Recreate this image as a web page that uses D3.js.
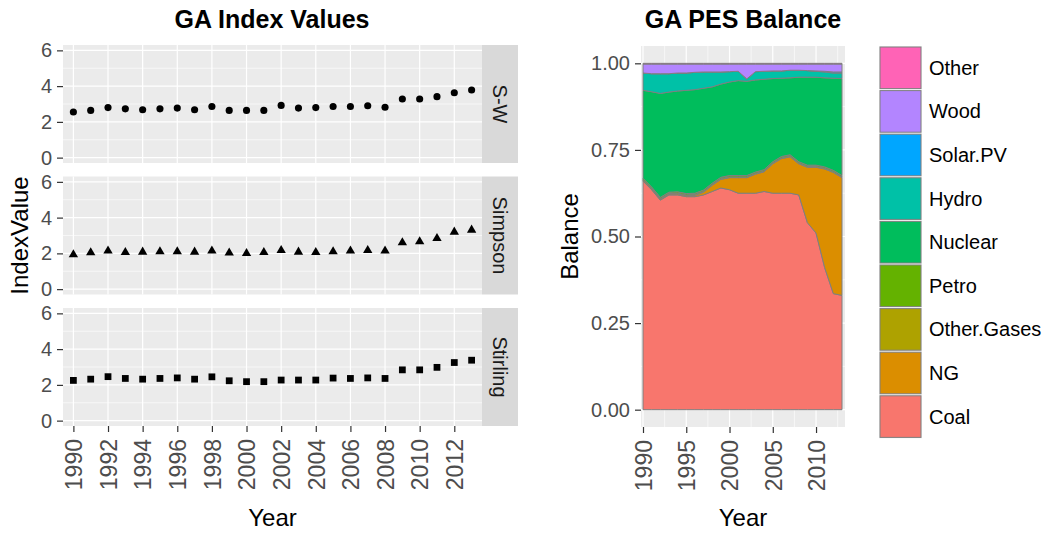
<!DOCTYPE html>
<html lang="en">
<head>
<meta charset="UTF-8">
<title>GA Index Values / GA PES Balance</title>
<script src="https://d3js.org/d3.v7.min.js"></script>
<style>
    body { margin: 0; background: #fff; }
    svg { font-family: "Liberation Sans", Arial, sans-serif; }
    .tick text { fill: #4d4d4d; font-size: 20px; }
    .xaxis .tick text { font-size: 23px; }
    .tick line { stroke: #333; }
    .axis-title { font-size: 24px; fill: #000; }
    .title { font-size: 25px; font-weight: bold; fill: #000; }
</style>
</head>
<body>
<script>
    // ---- data ----
    const years = [1990, 1991, 1992, 1993, 1994, 1995, 1996, 1997, 1998, 1999, 2000, 2001,
        2002, 2003, 2004, 2005, 2006, 2007, 2008, 2009, 2010, 2011, 2012, 2013];
    const yearLabels = [1990, 1992, 1994, 1996, 1998, 2000, 2002, 2004, 2006, 2008, 2010, 2012];

    const swValues = [2.55, 2.64, 2.80, 2.73, 2.68, 2.73, 2.77, 2.68, 2.86, 2.64, 2.64, 2.64,
        2.92, 2.77, 2.80, 2.86, 2.86, 2.90, 2.82, 3.28, 3.28, 3.41, 3.63, 3.78];
    const simpsonValues = [1.93, 2.04, 2.14, 2.06, 2.08, 2.10, 2.10, 2.08, 2.14, 2.03, 2.00, 2.06,
        2.17, 2.08, 2.06, 2.10, 2.14, 2.17, 2.14, 2.60, 2.66, 2.84, 3.20, 3.31];
    const stirlingValues = [2.25, 2.32, 2.46, 2.36, 2.32, 2.36, 2.39, 2.32, 2.45, 2.23, 2.18, 2.18,
        2.27, 2.27, 2.27, 2.38, 2.36, 2.39, 2.36, 2.84, 2.84, 2.98, 3.25, 3.38];
    const indexTicks = [0, 2, 4, 6];

    const sources = ["Coal", "NG", "Other.Gases", "Petro", "Nuclear", "Hydro", "Solar.PV", "Wood", "Other"];
    const sourceColors = ["#F8766D", "#DB8E00", "#AEA200", "#64B200", "#00BD5C", "#00C1A7", "#00A6FF", "#B385FF", "#FF63B6"];

    const coal = [0.660, 0.635, 0.605, 0.620, 0.620, 0.615, 0.615, 0.620, 0.630, 0.640, 0.635, 0.625,
        0.625, 0.625, 0.630, 0.625, 0.625, 0.625, 0.620, 0.540, 0.510, 0.410, 0.335, 0.330];
    const ng = [0.002, 0.002, 0.002, 0.002, 0.003, 0.003, 0.004, 0.008, 0.018, 0.025, 0.035, 0.045,
        0.045, 0.055, 0.057, 0.085, 0.100, 0.105, 0.090, 0.160, 0.190, 0.285, 0.350, 0.340];
    const otherGases = [0.002, 0.002, 0.002, 0.002, 0.002, 0.002, 0.002, 0.002, 0.002, 0.002, 0.002, 0.002,
        0.002, 0.002, 0.002, 0.002, 0.002, 0.002, 0.002, 0.002, 0.002, 0.002, 0.002, 0.002];
    const petro = [0.004, 0.004, 0.004, 0.004, 0.004, 0.004, 0.004, 0.004, 0.004, 0.004, 0.004, 0.004,
        0.004, 0.004, 0.004, 0.004, 0.004, 0.004, 0.004, 0.004, 0.004, 0.004, 0.004, 0.004];
    const nuclear = [0.254, 0.275, 0.300, 0.289, 0.291, 0.298, 0.299, 0.294, 0.278, 0.269, 0.270, 0.274,
        0.272, 0.266, 0.261, 0.240, 0.226, 0.222, 0.244, 0.254, 0.254, 0.257, 0.266, 0.280];
    const hydro = [0.050, 0.052, 0.057, 0.053, 0.052, 0.050, 0.050, 0.047, 0.043, 0.035, 0.030, 0.027,
        0.007, 0.024, 0.023, 0.022, 0.021, 0.022, 0.020, 0.019, 0.017, 0.017, 0.015, 0.016];
    const solarPV = [0, 0, 0, 0, 0, 0, 0, 0, 0, 0, 0, 0,
        0, 0, 0, 0, 0, 0, 0, 0, 0.001, 0.002, 0.003, 0.003];
    const wood = [0.026, 0.028, 0.028, 0.028, 0.026, 0.026, 0.024, 0.023, 0.023, 0.023, 0.022, 0.021,
        0.043, 0.022, 0.021, 0.020, 0.020, 0.018, 0.018, 0.019, 0.020, 0.021, 0.023, 0.023];
    const other = [0.002, 0.002, 0.002, 0.002, 0.002, 0.002, 0.002, 0.002, 0.002, 0.002, 0.002, 0.002,
        0.002, 0.002, 0.002, 0.002, 0.002, 0.002, 0.002, 0.002, 0.002, 0.002, 0.002, 0.002];
    const balanceTicks = [0, 0.25, 0.5, 0.75, 1];
    const balanceYearTicks = [1990, 1995, 2000, 2005, 2010];

    const svg = d3.select("body").append("svg")
        .attr("width", 1044)
        .attr("height", 533);

    // ---- left: faceted index values ----
    const leftX0 = 63, leftX1 = 482, stripW = 36;
    const panelH = 118, panelGap = 13.5, panelTop = 45;

    const x = d3.scalePoint().domain(years).range([leftX0, leftX1]).padding(0.6);

    const facets = [
        {name: "S-W", values: swValues, shape: d3.symbolCircle, size: 40},
        {name: "Simpson", values: simpsonValues, shape: d3.symbolTriangle, size: 38},
        {name: "Stirling", values: stirlingValues, shape: d3.symbolSquare, size: 46}
    ];

    facets.forEach(function (f, k) {
        const top = panelTop + k * (panelH + panelGap);
        const y = d3.scaleLinear().domain([-0.3, 6.3]).range([top + panelH, top]);
        const g = svg.append("g");

        g.append("rect")
            .attr("x", leftX0).attr("y", top)
            .attr("width", leftX1 - leftX0).attr("height", panelH)
            .attr("fill", "#ebebeb");

        // minor grid
        g.selectAll(".minor").data([1, 3, 5]).enter().append("line")
            .attr("x1", leftX0).attr("x2", leftX1)
            .attr("y1", d => y(d)).attr("y2", d => y(d))
            .attr("stroke", "#fff").attr("stroke-width", 0.6);
        // major grid
        g.selectAll(".majorY").data(indexTicks).enter().append("line")
            .attr("x1", leftX0).attr("x2", leftX1)
            .attr("y1", d => y(d)).attr("y2", d => y(d))
            .attr("stroke", "#fff").attr("stroke-width", 1.2);
        g.selectAll(".majorX").data(yearLabels).enter().append("line")
            .attr("x1", d => x(d)).attr("x2", d => x(d))
            .attr("y1", top).attr("y2", top + panelH)
            .attr("stroke", "#fff").attr("stroke-width", 1.2);

        // points
        g.selectAll("path.pt").data(f.values).enter().append("path")
            .attr("class", "pt")
            .attr("transform", (d, i) => "translate(" + x(years[i]) + "," + y(d) + ")")
            .attr("d", d3.symbol().type(f.shape).size(f.size))
            .attr("fill", "#000");

        // y axis
        const ax = g.append("g")
            .attr("transform", "translate(" + leftX0 + ",0)")
            .call(d3.axisLeft(y).tickValues(indexTicks).tickFormat(d3.format("d")).tickSize(6).tickPadding(5));
        ax.select(".domain").remove();
        ax.selectAll(".tick line").attr("stroke-width", 1.2);

        // strip
        g.append("rect")
            .attr("x", leftX1).attr("y", top)
            .attr("width", stripW).attr("height", panelH)
            .attr("fill", "#d9d9d9");
        g.append("text")
            .attr("transform", "translate(" + (leftX1 + stripW / 2) + "," + (top + panelH / 2) + ") rotate(90)")
            .attr("text-anchor", "middle")
            .attr("dy", "0.35em")
            .style("font-size", "20px")
            .style("fill", "#1a1a1a")
            .text(f.name);
    });

    const leftBottom = panelTop + 3 * panelH + 2 * panelGap;
    const axL = svg.append("g")
        .attr("class", "xaxis")
        .attr("transform", "translate(0," + leftBottom + ")")
        .call(d3.axisBottom(x).tickValues(yearLabels).tickSize(6));
    axL.select(".domain").remove();
    axL.selectAll(".tick line").attr("stroke-width", 1.2);
    axL.selectAll(".tick text")
        .attr("transform", "rotate(-90)")
        .attr("x", -13).attr("y", 0).attr("dy", "0.36em")
        .style("text-anchor", "end");

    svg.append("text").attr("class", "title")
        .attr("x", 272).attr("y", 28).attr("text-anchor", "middle")
        .text("GA Index Values");
    svg.append("text").attr("class", "axis-title")
        .attr("x", (leftX0 + leftX1) / 2).attr("y", 526).attr("text-anchor", "middle")
        .text("Year");
    svg.append("text").attr("class", "axis-title")
        .attr("transform", "translate(28," + (panelTop + leftBottom) / 2 + ") rotate(-90)")
        .attr("text-anchor", "middle")
        .text("IndexValue");

    // ---- right: stacked balance ----
    const rX0 = 641, rX1 = 845, rTop = 46, rBottom = 427;
    const xr = d3.scaleLinear().domain([1990, 2013]).range([643, 842]);
    const yr = d3.scaleLinear().domain([-0.05, 1.05]).range([rBottom, rTop]);

    const series = {"Coal": coal, "NG": ng, "Other.Gases": otherGases, "Petro": petro, "Nuclear": nuclear,
        "Hydro": hydro, "Solar.PV": solarPV, "Wood": wood, "Other": other};
    const table = years.map(function (yr_, i) {
        const row = {year: yr_};
        sources.forEach(s => row[s] = series[s][i]);
        return row;
    });
    const stacked = d3.stack().keys(sources).offset(d3.stackOffsetExpand)(table);
    const color = d3.scaleOrdinal().domain(sources).range(sourceColors);

    const gr = svg.append("g");
    gr.append("rect")
        .attr("x", rX0).attr("y", rTop)
        .attr("width", rX1 - rX0).attr("height", rBottom - rTop)
        .attr("fill", "#ebebeb");
    gr.selectAll(".minorX").data([1992.5, 1997.5, 2002.5, 2007.5, 2012.5]).enter().append("line")
        .attr("x1", d => xr(d)).attr("x2", d => xr(d))
        .attr("y1", rTop).attr("y2", rBottom)
        .attr("stroke", "#fff").attr("stroke-width", 0.6);
    gr.selectAll(".minorY").data([0.125, 0.375, 0.625, 0.875]).enter().append("line")
        .attr("x1", rX0).attr("x2", rX1)
        .attr("y1", d => yr(d)).attr("y2", d => yr(d))
        .attr("stroke", "#fff").attr("stroke-width", 0.6);
    gr.selectAll(".majorX").data(balanceYearTicks).enter().append("line")
        .attr("x1", d => xr(d)).attr("x2", d => xr(d))
        .attr("y1", rTop).attr("y2", rBottom)
        .attr("stroke", "#fff").attr("stroke-width", 1.2);
    gr.selectAll(".majorY").data(balanceTicks).enter().append("line")
        .attr("x1", rX0).attr("x2", rX1)
        .attr("y1", d => yr(d)).attr("y2", d => yr(d))
        .attr("stroke", "#fff").attr("stroke-width", 1.2);

    const area = d3.area()
        .x(d => xr(d.data.year))
        .y0(d => yr(d[0]))
        .y1(d => yr(d[1]));
    gr.selectAll("path.area").data(stacked).enter().append("path")
        .attr("class", "area")
        .attr("d", area)
        .attr("fill", d => color(d.key))
        .attr("stroke", "#7f7f7f")
        .attr("stroke-width", 1);

    const axRY = gr.append("g")
        .attr("transform", "translate(" + rX0 + ",0)")
        .call(d3.axisLeft(yr).tickValues(balanceTicks).tickFormat(d3.format(".2f")).tickSize(6).tickPadding(5));
    axRY.select(".domain").remove();
    axRY.selectAll(".tick line").attr("stroke-width", 1.2);

    const axRX = gr.append("g")
        .attr("class", "xaxis")
        .attr("transform", "translate(0," + rBottom + ")")
        .call(d3.axisBottom(xr).tickValues(balanceYearTicks).tickFormat(d3.format("d")).tickSize(6));
    axRX.select(".domain").remove();
    axRX.selectAll(".tick line").attr("stroke-width", 1.2);
    axRX.selectAll(".tick text")
        .attr("transform", "rotate(-90)")
        .attr("x", -13).attr("y", 0).attr("dy", "0.36em")
        .style("text-anchor", "end");

    svg.append("text").attr("class", "title")
        .attr("x", 743).attr("y", 28).attr("text-anchor", "middle")
        .text("GA PES Balance");
    svg.append("text").attr("class", "axis-title")
        .attr("x", 743).attr("y", 526).attr("text-anchor", "middle")
        .text("Year");
    svg.append("text").attr("class", "axis-title")
        .attr("transform", "translate(578," + (rTop + rBottom) / 2 + ") rotate(-90)")
        .attr("text-anchor", "middle")
        .text("Balance");

    // ---- legend ----
    const keyX = 879, keyW = 43, keyTop = 46, keyH = 43.6;
    const legendOrder = sources.slice().reverse();
    const lg = svg.append("g");
    legendOrder.forEach(function (s, i) {
        const ky = keyTop + i * keyH;
        lg.append("rect")
            .attr("x", keyX).attr("y", ky)
            .attr("width", keyW).attr("height", keyH)
            .attr("fill", "#f2f2f2");
        lg.append("rect")
            .attr("x", keyX + 1).attr("y", ky + 1)
            .attr("width", keyW - 2).attr("height", keyH - 2)
            .attr("fill", color(s))
            .attr("stroke", "#7f7f7f")
            .attr("stroke-width", 1);
        lg.append("text")
            .attr("x", 929).attr("y", ky + keyH / 2)
            .attr("dy", "0.35em")
            .style("font-size", "20px")
            .style("fill", "#000")
            .text(s);
    });
</script>
</body>
</html>
